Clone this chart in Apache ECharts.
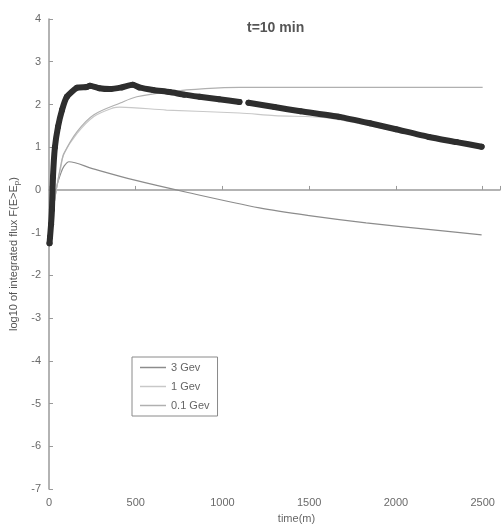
<!DOCTYPE html>
<html>
<head>
<meta charset="UTF-8">
<title></title>
<script src="https://cdn.jsdelivr.net/npm/echarts@6/dist/echarts.min.js"></script>
<style>
	html, body { margin: 0; padding: 0; background: #fff; }
	#main { width: 503px; height: 529px; }
</style>
</head>
<body>
<div id="main"></div>
<script type="text/javascript">
	// 观测数据 (粗线)
	var obsTime = [3, 6, 12, 17, 23, 34, 52, 75, 103, 161, 218, 236, 290, 351, 420, 483, 520, 600, 695, 780, 868, 980, 1098, null, 1150, 1300, 1450, 1672, 1850, 2000, 2190, 2350, 2494];
	var obsFlux = [-1.25, -1.1, -0.8, -0.46, 0.31, 1.0, 1.48, 1.87, 2.18, 2.39, 2.41, 2.44, 2.38, 2.36, 2.4, 2.46, 2.4, 2.34, 2.29, 2.23, 2.18, 2.12, 2.06, null, 2.04, 1.94, 1.84, 1.71, 1.56, 1.42, 1.24, 1.12, 1.01];
	// 3 Gev
	var t3 = [5, 30, 46, 69, 86, 115, 250, 483, 800, 1213, 1500, 1828, 2200, 2494];
	var f3 = [-1.0, -0.3, 0.1, 0.4, 0.55, 0.66, 0.5, 0.24, -0.06, -0.42, -0.6, -0.77, -0.93, -1.05];
	// 1 Gev
	var t1 = [5, 30, 46, 69, 86, 161, 259, 370, 408, 677, 1098, 1300, 1615, 2000, 2300, 2494];
	var f1 = [-1.0, -0.3, 0.1, 0.55, 0.85, 1.32, 1.72, 1.92, 1.94, 1.87, 1.8, 1.74, 1.68, 1.38, 1.15, 1.02];
	// 0.1 Gev
	var t01 = [5, 30, 46, 69, 86, 161, 259, 414, 506, 700, 900, 1100, 1500, 2000, 2500];
	var f01 = [-1.0, -0.3, 0.1, 0.6, 0.85, 1.36, 1.76, 2.04, 2.18, 2.3, 2.37, 2.4, 2.4, 2.4, 2.4];

	var xTicks = [0, 500, 1000, 1500, 2000, 2500];

	function pairs(xs, ys) {
		var out = [];
		for (var i = 0; i < xs.length; i++) {
			out.push(xs[i] == null ? null : [xs[i], ys[i]]);
		}
		return out;
	}

	var chart = echarts.init(document.getElementById('main'));
	var axisColor = '#9a9a9a';
	var labelColor = '#6a6a6a';

	chart.setOption({
		animation: false,
		backgroundColor: '#fff',
		textStyle: { fontFamily: 'Liberation Sans, Arial, sans-serif' },
		title: {
			text: 't=10 min',
			left: 242,
			top: 16,
			textStyle: { fontSize: 14, fontWeight: 'bold', color: '#555' }
		},
		legend: {
			data: ['3 Gev', '1 Gev', '0.1 Gev'],
			orient: 'vertical',
			left: 132,
			top: 357,
			icon: 'rect',
			itemWidth: 26,
			itemHeight: 1.5,
			itemGap: 8,
			padding: [5, 8, 5, 8],
			borderColor: '#8a8a8a',
			borderWidth: 1,
			backgroundColor: '#fff',
			textStyle: { fontSize: 11, color: '#666' }
		},
		grid: { left: 49, right: 2, top: 19, bottom: 39 },
		xAxis: {
			type: 'value',
			min: 0,
			max: 2600,
			interval: 500,
			name: 'time(m)',
			nameLocation: 'middle',
			nameGap: 22,
			nameTextStyle: { fontSize: 11, color: '#666', padding: [0, 0, 0, 44] },
			axisLine: { lineStyle: { color: axisColor, width: 1.5 } },
			axisTick: { inside: true, length: 4, lineStyle: { color: axisColor } },
			axisLabel: {
				fontSize: 11, color: labelColor, margin: 8,
				formatter: function(v) { return xTicks.indexOf(v) >= 0 ? String(v) : ''; }
			},
			splitLine: { show: false }
		},
		yAxis: {
			type: 'value',
			min: -7,
			max: 4,
			interval: 1,
			name: 'log10 of integrated flux F(E>E{sub|p})',
			nameLocation: 'middle',
			nameGap: 26,
			nameTextStyle: {
				fontSize: 11, color: '#555',
				rich: { sub: { fontSize: 8, color: '#555', verticalAlign: 'bottom', padding: [4, 0, 0, 0] } }
			},
			axisLine: { show: true, lineStyle: { color: axisColor, width: 1.5 } },
			axisTick: { show: true, inside: true, length: 4, lineStyle: { color: axisColor } },
			axisLabel: { fontSize: 11, color: labelColor, margin: 8 },
			splitLine: { show: false }
		},
		series: [
			{
				name: '3 Gev', type: 'line', data: pairs(t3, f3), smooth: 0.3,
				symbol: 'none', lineStyle: { color: '#8c8c8c', width: 1.2 }, itemStyle: { color: '#8c8c8c' }
			},
			{
				name: '1 Gev', type: 'line', data: pairs(t1, f1), smooth: 0.3,
				symbol: 'none', lineStyle: { color: '#c8c8c8', width: 1.2 }, itemStyle: { color: '#c8c8c8' }
			},
			{
				name: '0.1 Gev', type: 'line', data: pairs(t01, f01), smooth: 0.3,
				symbol: 'none', lineStyle: { color: '#b0b0b0', width: 1.2 }, itemStyle: { color: '#b0b0b0' }
			},
			{
				name: 'data', type: 'line', data: pairs(obsTime, obsFlux), smooth: 0.2,
				connectNulls: false, symbol: 'circle', symbolSize: 6, showSymbol: true,
				lineStyle: { color: '#2e2e2e', width: 6, cap: 'round', join: 'round' },
				itemStyle: { color: '#2e2e2e' }, z: 5
			}
		]
	});
</script>
</body>
</html>
